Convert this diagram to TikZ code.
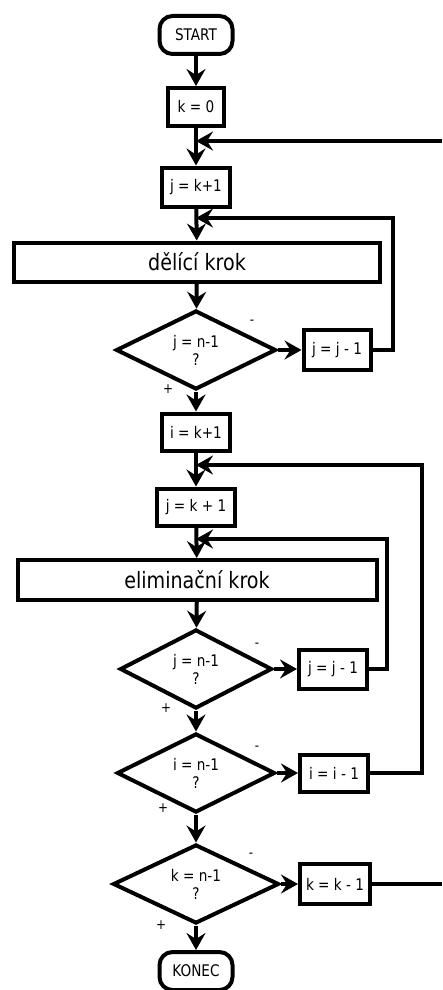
\documentclass[tikz,border=0pt]{standalone}
\usepackage{fontspec}
\setmainfont{DejaVu Sans}[FakeStretch=0.85]
\usetikzlibrary{shapes.geometric,arrows.meta}
\begin{document}
\begin{tikzpicture}[x=1pt,y=-1pt,
  line width=4pt,
  every node/.style={font=\fontsize{16}{18}\selectfont, inner sep=0pt},
  box/.style={draw, rectangle, align=center},
  term/.style={draw, rectangle, rounded corners=13pt},
  dec/.style={draw, diamond, aspect=2, align=center, minimum height=79pt},
  big/.style={font=\fontsize{22.5}{26}\selectfont},
  arr/.style={-{Stealth[length=17pt,width=19pt,inset=6pt]}},
  sgn/.style={font=\fontsize{14}{16}\selectfont},
]
\useasboundingbox (0,0) rectangle (442,990);
% spine nodes
\node[term, minimum width=73, minimum height=38] (start) at (196,35) {START};
\node[box, minimum width=56, minimum height=38] (k0) at (196,107) {k = 0};
\node[box, minimum width=68, minimum height=39] (j1) at (196,187) {j = k+1};
\node[box, big, minimum width=366, minimum height=39] (del) at (197,262) {dělící krok};
\node[dec, minimum width=160] (d1) at (196,350) {j = n-1\\?};
\node[box, minimum width=67, minimum height=40] (jj1) at (337,350) {j = j - 1};
\node[box, minimum width=68, minimum height=37] (i1) at (196,432) {i = k+1};
\node[box, minimum width=78, minimum height=37] (j2) at (196,507) {j = k + 1};
\node[box, big, minimum width=359, minimum height=40] (elim) at (197,580) {eliminační krok};
\node[dec, minimum width=152] (d2) at (196,669) {j = n-1\\?};
\node[box, minimum width=68, minimum height=39] (jj2) at (333,669) {j = j - 1};
\node[dec, minimum width=158] (d3) at (196,773) {i = n-1\\?};
\node[box, minimum width=68, minimum height=37] (ii1) at (334,773) {i = i - 1};
\node[dec, minimum width=166] (d4) at (196,884) {k = n-1\\?};
\node[box, minimum width=70, minimum height=40] (kk1) at (335,884) {k = k - 1};
\node[term, minimum width=73, minimum height=38] (konec) at (196,971) {KONEC};
% signs
\node[sgn] (s1m) at (252,322) {-};
\node[sgn] (s1p) at (168,389) {+};
\node[sgn] (s2m) at (257,645) {-};
\node[sgn] (s2p) at (166,708) {+};
\node[sgn] (s3m) at (257,748) {-};
\node[sgn] (s3p) at (163,808) {+};
\node[sgn] (s4m) at (251,855) {-};
\node[sgn] (s4p) at (161,925) {+};
% merge points and loop corners
\coordinate (m1) at (196,141);
\coordinate (m2) at (196,218);
\coordinate (m3) at (196,465);
\coordinate (m4) at (196,539);
\coordinate (r1) at (393,218);
\coordinate (r2) at (387,539);
\coordinate (r3) at (422,465);
\coordinate (outB) at (442,884);
\coordinate (outT) at (442,141);
% main flow
\draw[arr] (start) -- (k0);
\draw[arr] (k0) -- (j1);
\draw[arr] (j1) -- (del);
\draw[arr] (del) -- (d1);
\draw[arr] (d1) -- (jj1);
\draw[arr] (d1) -- (i1);
\draw[arr] (i1) -- (j2);
\draw[arr] (j2) -- (elim);
\draw[arr] (elim) -- (d2);
\draw[arr] (d2) -- (jj2);
\draw[arr] (d2) -- (d3);
\draw[arr] (d3) -- (ii1);
\draw[arr] (d3) -- (d4);
\draw[arr] (d4) -- (kk1);
\draw[arr] (d4) -- (konec);
% loops
\draw[arr] (jj1.east) -| (r1) -- (m2);
\draw[arr] (jj2.east) -| (r2) -- (m4);
\draw[arr] (ii1.east) -| (r3) -- (m3);
\draw (kk1.east) -- (outB);
\draw[arr] (outT) -- (m1);
\end{tikzpicture}
\end{document}
